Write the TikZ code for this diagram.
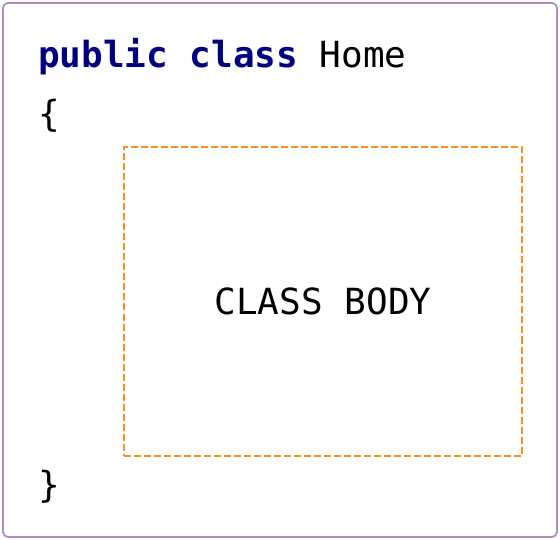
\documentclass[tikz,border=0pt]{standalone}
\usepackage{fontspec}
\setmonofont{DejaVu Sans Mono}
\usetikzlibrary{positioning}

\definecolor{framepurple}{HTML}{B08CC2}
\definecolor{bodyorange}{HTML}{FF8C1E}
\definecolor{keynavy}{HTML}{000080}

\begin{document}
\begin{tikzpicture}[x=1pt,y=-1pt]
	\tikzstyle{code} = [anchor=base west, inner sep=0pt, font=\ttfamily\fontsize{36}{36}\selectfont]
	\tikzstyle{classbody} = [draw=bodyorange, line width=2pt, dash pattern=on 7pt off 3pt, minimum width=398pt, minimum height=308pt, inner sep=0pt, font=\ttfamily\fontsize{36}{36}\selectfont]

	\useasboundingbox (0,0) rectangle (560,540);

%----------frame----------------------------------------------
	\draw[framepurple, line width=1.8pt, rounded corners=5pt] (3,3) rectangle (557,537);

%----------header---------------------------------------------
	\node[code] (header) at (38,68) {{\bfseries\color{keynavy}public class} Home};
	\node[code] (open) at (38,127) {\{};

%----------body-----------------------------------------------
	\node[classbody] (body) at (323,301.5) {CLASS BODY};

	\node[code] (close) at (38,497) {\}};

\end{tikzpicture}
\end{document}
